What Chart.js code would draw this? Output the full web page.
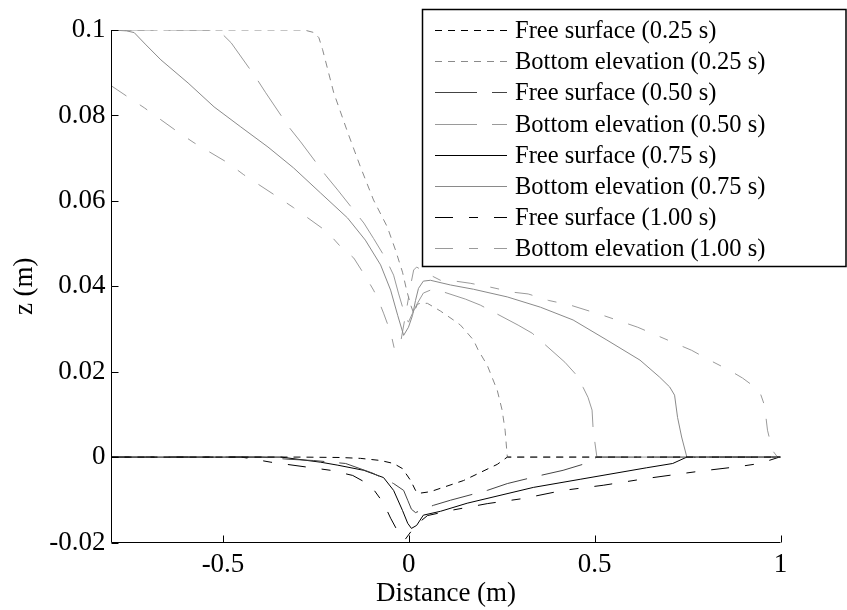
<!DOCTYPE html>
<html><head><meta charset="utf-8">
<script src="https://cdn.jsdelivr.net/npm/chart.js@4.4.1/dist/chart.umd.min.js"></script>
<style>html,body{margin:0;padding:0;background:#fff;} canvas{display:block;}</style>
</head><body>
<canvas id="c" width="847" height="610"></canvas>
<script>
// ---- data ----
const seriesLabels = [
  'Free surface (0.25 s)', 'Bottom elevation (0.25 s)',
  'Free surface (0.50 s)', 'Bottom elevation (0.50 s)',
  'Free surface (0.75 s)', 'Bottom elevation (0.75 s)',
  'Free surface (1.00 s)', 'Bottom elevation (1.00 s)'
];
const fs025 = [[-0.8,0],[-0.29,0],[-0.183,-0.0001],[-0.13,-0.0003],[-0.076,-0.0008],[-0.041,-0.0015],[-0.017,-0.0027],[0.005,-0.0055],[0.018,-0.0078],[0.026,-0.0085],[0.058,-0.0081],[0.147,-0.0055],[0.238,-0.0017],[0.265,0],[1.0,0]];
const be025 = [[-0.8,0.1],[-0.29,0.1],[-0.277,0.0999],[-0.255,0.0994],[-0.242,0.0982],[-0.232,0.0954],[-0.202,0.0853],[-0.164,0.0759],[-0.13,0.0679],[-0.095,0.0602],[-0.058,0.0539],[-0.036,0.0485],[-0.017,0.0433],[-0.006,0.0391],[0.005,0.0356],[0.013,0.0337],[0.023,0.0358],[0.031,0.036],[0.05,0.036],[0.085,0.0342],[0.12,0.0321],[0.139,0.0309],[0.174,0.0274],[0.187,0.025],[0.211,0.0215],[0.238,0.0156],[0.251,0.011],[0.259,0.0063],[0.265,0],[1.0,0]];
const fs050 = [[-0.8,0],[-0.398,0],[-0.325,-0.0005],[-0.256,-0.0008],[-0.17,-0.0015],[-0.096,-0.0038],[-0.041,-0.0062],[-0.014,-0.0078],[-0.003,-0.0101],[0.007,-0.0122],[0.018,-0.013],[0.066,-0.0113],[0.112,-0.0101],[0.211,-0.0078],[0.265,-0.0062],[0.354,-0.0043],[0.415,-0.0031],[0.487,-0.0012],[0.506,0],[1.0,0]];
const be050 = [[-0.8,0.1],[-0.519,0.1],[-0.5,0.0989],[-0.478,0.097],[-0.411,0.0888],[-0.385,0.0853],[-0.323,0.0773],[-0.291,0.0738],[-0.224,0.066],[-0.191,0.0625],[-0.121,0.0548],[-0.095,0.0512],[-0.063,0.0466],[-0.041,0.0426],[-0.028,0.0384],[-0.009,0.0328],[-0.001,0.0316],[0.01,0.0337],[0.023,0.036],[0.039,0.0384],[0.058,0.0391],[0.085,0.0389],[0.152,0.037],[0.192,0.0356],[0.294,0.0309],[0.332,0.029],[0.42,0.0222],[0.447,0.0196],[0.469,0.0163],[0.482,0.014],[0.493,0.011],[0.496,0.0063],[0.506,0],[1.0,0]];
const fs075 = [[-0.8,0],[-0.344,0],[-0.237,-0.0012],[-0.191,-0.0019],[-0.121,-0.0031],[-0.068,-0.0048],[-0.041,-0.0078],[-0.017,-0.0125],[-0.003,-0.0155],[0.007,-0.0167],[0.021,-0.016],[0.039,-0.0136],[0.085,-0.0127],[0.157,-0.0108],[0.335,-0.0071],[0.461,-0.0052],[0.64,-0.0025],[0.71,-0.0015],[0.748,0],[1.0,0]];
const be075 = [[-0.8,0.1],[-0.76,0.0998],[-0.739,0.0994],[-0.707,0.0965],[-0.667,0.093],[-0.594,0.0876],[-0.524,0.082],[-0.452,0.0773],[-0.379,0.0726],[-0.31,0.0677],[-0.237,0.0618],[-0.165,0.056],[-0.117,0.0508],[-0.076,0.045],[-0.049,0.0391],[-0.03,0.0332],[-0.014,0.0285],[-0.001,0.0304],[0.01,0.0332],[0.018,0.0367],[0.026,0.0395],[0.039,0.0412],[0.058,0.0414],[0.112,0.0403],[0.174,0.0393],[0.265,0.0375],[0.354,0.0351],[0.442,0.0321],[0.533,0.0274],[0.622,0.0227],[0.675,0.0187],[0.702,0.0164],[0.715,0.0145],[0.723,0.0093],[0.734,0.0047],[0.748,0],[1.0,0]];
const fs100 = [[-0.8,0],[-0.45,0],[-0.371,-0.0012],[-0.21,-0.0031],[-0.151,-0.0043],[-0.103,-0.0066],[-0.068,-0.0108],[-0.049,-0.0143],[-0.036,-0.0164],[-0.022,-0.0188],[-0.01,-0.0193],[0.018,-0.016],[0.05,-0.0137],[0.112,-0.0125],[0.211,-0.0109],[0.308,-0.0097],[0.415,-0.0078],[0.523,-0.0066],[0.64,-0.005],[0.783,-0.0033],[0.89,-0.0022],[0.944,-0.0015],[0.997,0],[1.0,0]];
const be100 = [[-0.8,0.0869],[-0.752,0.0841],[-0.712,0.0818],[-0.621,0.0761],[-0.578,0.0736],[-0.487,0.0689],[-0.444,0.0661],[-0.353,0.0609],[-0.31,0.0584],[-0.219,0.0527],[-0.183,0.0492],[-0.148,0.0466],[-0.116,0.0422],[-0.095,0.0391],[-0.084,0.0372],[-0.068,0.0337],[-0.049,0.0292],[-0.038,0.025],[-0.03,0.0257],[-0.022,0.0269],[-0.009,0.0332],[0.005,0.0403],[0.013,0.0438],[0.021,0.0445],[0.058,0.0426],[0.085,0.0414],[0.125,0.0412],[0.165,0.0407],[0.219,0.0398],[0.281,0.0386],[0.321,0.0382],[0.375,0.0367],[0.434,0.0356],[0.522,0.0332],[0.576,0.0316],[0.616,0.0304],[0.667,0.0285],[0.723,0.0264],[0.761,0.025],[0.809,0.0227],[0.863,0.0203],[0.898,0.0185],[0.943,0.0156],[0.957,0.0121],[0.965,0.0063],[0.978,0.0016],[0.992,0],[1.0,0]];
const seriesData = [fs025, be025, fs050, be050, fs075, be075, fs100, be100];

const xTicks = [-0.5, 0, 0.5, 1];
const xTickLabels = ['-0.5', '0', '0.5', '1'];
const yTicks = [-0.02, 0, 0.02, 0.04, 0.06, 0.08, 0.1];
const yTickLabels = ['-0.02', '0', '0.02', '0.04', '0.06', '0.08', '0.1'];
const xRange = [-0.8, 1];
const yRange = [-0.02, 0.1];
const xTitle = 'Distance (m)';
const yTitle = 'z (m)';

// ---- styles ----
const seriesStyles = [
  {color:'#000000', dash:[7,6]},
  {color:'#8a8a8a', dash:[7,6]},
  {color:'#444444', dash:[42,15]},
  {color:'#9a9a9a', dash:[42,15]},
  {color:'#000000', dash:[]},
  {color:'#8a8a8a', dash:[]},
  {color:'#000000', dash:[18,16,9,16]},
  {color:'#9a9a9a', dash:[18,16,9,16]}
];
const SERIF = '"Liberation Serif", "Times New Roman", serif';

const datasets = seriesData.map((pts, i) => ({
  label: seriesLabels[i],
  data: pts.map(p => ({x: p[0], y: p[1]})),
  showLine: true,
  borderColor: seriesStyles[i].color,
  borderDash: seriesStyles[i].dash,
  borderWidth: 1,
  pointRadius: 0,
  fill: false,
  tension: 0
}));

const axesPlugin = {
  id: 'axesPlugin',
  afterDatasetsDraw(chart) {
    const {ctx, chartArea: a, scales: {x, y}} = chart;
    ctx.save();
    ctx.strokeStyle = '#000';
    ctx.lineWidth = 1;
    ctx.setLineDash([]);
    ctx.beginPath();
    ctx.moveTo(a.left, a.top); ctx.lineTo(a.left, a.bottom); ctx.lineTo(a.right, a.bottom);
    xTicks.forEach(v => {
      const px = Math.round(x.getPixelForValue(v)) + 0.5;
      ctx.moveTo(px, a.bottom); ctx.lineTo(px, a.bottom - 7);
    });
    yTicks.forEach(v => {
      const py = Math.round(y.getPixelForValue(v)) + 0.5;
      ctx.moveTo(a.left, py); ctx.lineTo(a.left + 7, py);
    });
    ctx.stroke();
    ctx.restore();
  }
};

const boxLegend = {
  id: 'boxLegend',
  afterDraw(chart) {
    const ctx = chart.ctx;
    ctx.save();
    ctx.fillStyle = '#fff';
    ctx.fillRect(422, 9, 425, 258);
    ctx.strokeStyle = '#000';
    ctx.lineWidth = 1.5;
    ctx.setLineDash([]);
    ctx.strokeRect(422.5, 9.5, 423.5, 257);
    chart.data.datasets.forEach((ds, i) => {
      const ly = Math.round(30 + i * 31.2) + 0.5;
      ctx.strokeStyle = ds.borderColor;
      ctx.lineWidth = ds.borderWidth;
      ctx.setLineDash(ds.borderDash || []);
      ctx.beginPath();
      ctx.moveTo(435, ly); ctx.lineTo(507, ly);
      ctx.stroke();
      ctx.setLineDash([]);
      ctx.fillStyle = '#000';
      ctx.font = '24.5px ' + SERIF;
      ctx.textBaseline = 'alphabetic';
      ctx.textAlign = 'left';
      ctx.fillText(ds.label, 515, ly + 7);
    });
    ctx.restore();
  }
};

new Chart(document.getElementById('c'), {
  type: 'scatter',
  data: { datasets },
  plugins: [axesPlugin, boxLegend],
  options: {
    responsive: false,
    animation: false,
    events: [],
    layout: { padding: { left: 0, right: 66.5, top: 30, bottom: 0 } },
    plugins: { legend: { display: false }, tooltip: { enabled: false } },
    scales: {
      x: {
        type: 'linear', min: xRange[0], max: xRange[1],
        afterBuildTicks: s => { s.ticks = xTicks.map(v => ({value: v})); },
        afterFit: s => { s.height = 67.5; },
        grid: { display: false, drawTicks: false },
        border: { display: false },
        ticks: {
          callback: v => xTickLabels[xTicks.indexOf(v)],
          font: { family: SERIF, size: 27 }, color: '#000',
          padding: 6, maxRotation: 0, autoSkip: false
        },
        title: { display: true, text: xTitle, font: { family: SERIF, size: 27 }, color: '#000', padding: { top: 0, bottom: 0 } }
      },
      y: {
        type: 'linear', min: yRange[0], max: yRange[1],
        afterBuildTicks: s => { s.ticks = yTicks.map(v => ({value: v})); },
        afterFit: s => { s.width = 111.5; },
        grid: { display: false, drawTicks: false },
        border: { display: false },
        ticks: {
          callback: v => yTickLabels[yTicks.indexOf(v)],
          font: { family: SERIF, size: 27 }, color: '#000',
          padding: 6, autoSkip: false
        },
        title: { display: true, text: yTitle, font: { family: SERIF, size: 27 }, color: '#000', padding: { top: 9, bottom: 0 } }
      }
    }
  }
});
</script>
</body></html>
